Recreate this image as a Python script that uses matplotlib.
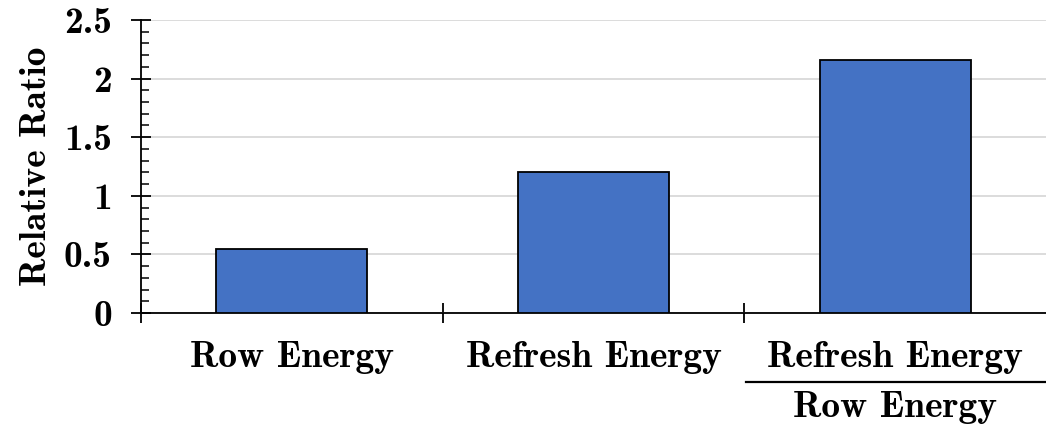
import matplotlib
matplotlib.use("Agg")
import matplotlib.pyplot as plt
import matplotlib.transforms as mtransforms
from matplotlib.ticker import MultipleLocator, FixedLocator

plt.rcParams['font.family'] = ['cmb10', 'DejaVu Serif']
plt.rcParams['axes.unicode_minus'] = False

categories = ["Row Energy", "Refresh Energy", "Refresh Energy"]
denominator = "Row Energy"   # third category is Refresh Energy / Row Energy
values = [0.55, 1.2, 2.16]
yticks = [0, 0.5, 1, 1.5, 2, 2.5]
yticklabels = ["0", "0.5", "1", "1.5", "2", "2.5"]

FS = 27

fig = plt.figure(figsize=(10.46, 4.28), dpi=100)
ax = fig.add_axes([0.1348, 0.2687, 0.8652, 0.6846])

x = list(range(len(categories)))
ax.bar(x, values, width=0.5, color="#4472C4", edgecolor="black", linewidth=1.3, zorder=3)

ax.set_xlim(-0.5, len(categories) - 0.5)
ax.set_ylim(0, 2.5)

ax.set_yticks(yticks)
ax.set_yticklabels(yticklabels, fontsize=FS)
ax.yaxis.set_minor_locator(MultipleLocator(0.1))
ax.tick_params(axis='y', which='major', direction='inout', length=14, width=1.3, pad=14)
ax.tick_params(axis='y', which='minor', direction='in', length=5.5, width=1.1)

ax.set_xticks(x)
ax.set_xticklabels(categories, fontsize=FS)
ax.tick_params(axis='x', which='major', length=0, pad=20)
ax.xaxis.set_minor_locator(FixedLocator([-0.5, 0.5, 1.5]))
ax.tick_params(axis='x', which='minor', direction='inout', length=15, width=1.3)

# fraction bar and denominator under the third label
trans = mtransforms.blended_transform_factory(ax.transData, ax.transAxes)
ax.plot([x[2] - 0.495, x[2] + 0.5], [-0.2355, -0.2355], color="black",
        linewidth=1.6, transform=trans, clip_on=False)
ax.text(x[2], -0.355, denominator, fontsize=FS, ha="center", va="baseline",
        transform=trans)

ax.grid(axis='y', color="#D9D9D9", linewidth=1.3, zorder=0)
ax.set_axisbelow(True)
for side in ("top", "right"):
    ax.spines[side].set_visible(False)
for side in ("left", "bottom"):
    ax.spines[side].set_linewidth(1.3)

ax.set_ylabel("Relative Ratio", fontsize=FS, labelpad=8)

fig.savefig("out.png", dpi=100)
